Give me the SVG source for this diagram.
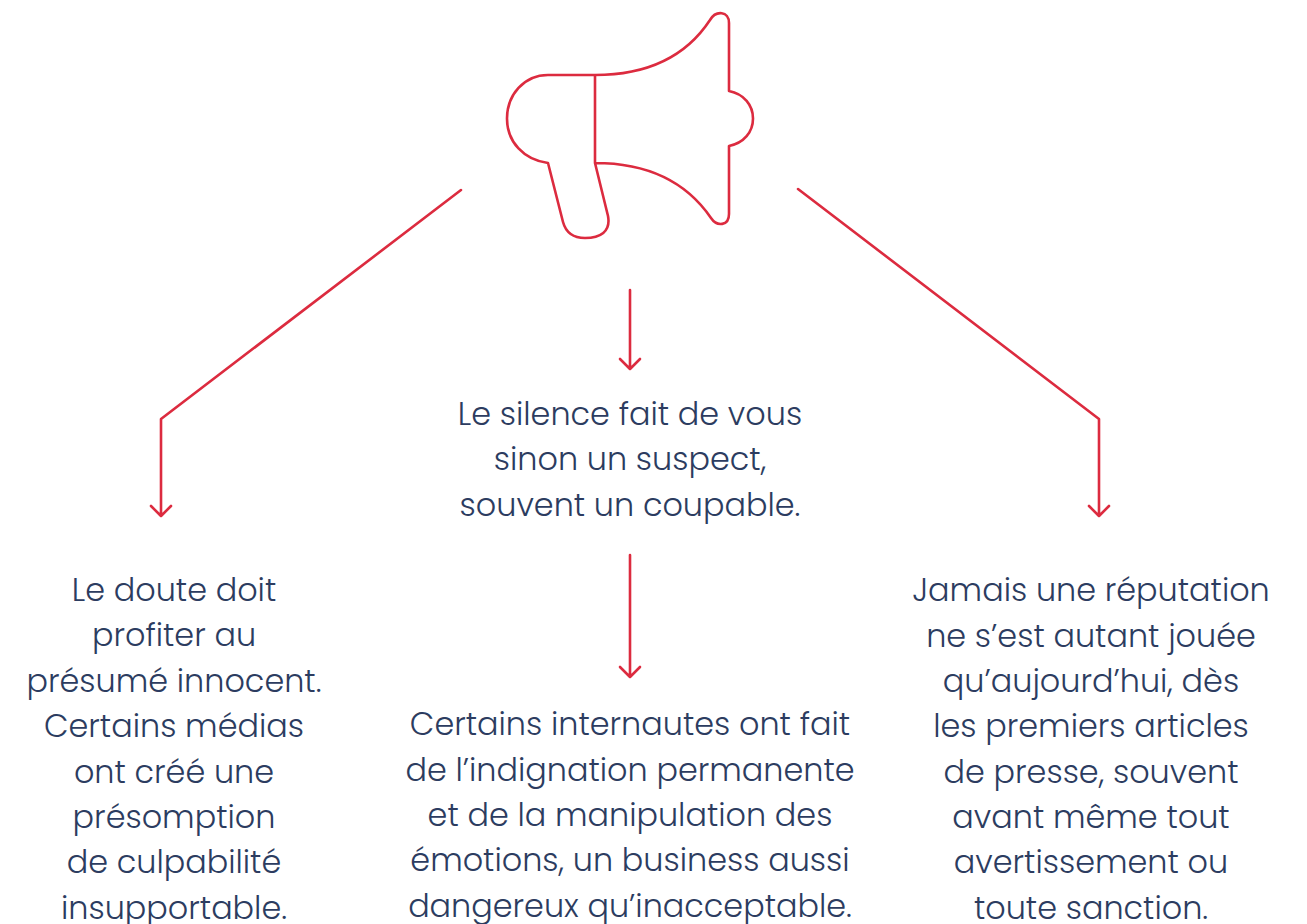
<svg xmlns="http://www.w3.org/2000/svg" width="1307" height="924" viewBox="0 0 1307 924">
<style>
.l{fill:none;stroke:#dc2b3f;stroke-width:2.6;stroke-linejoin:round;stroke-linecap:round}
text{font-family:"Poppins","Inter","Open Sans",sans-serif;font-size:31.85px;fill:#2c3c60;text-anchor:middle;font-weight:300}
</style>
<rect width="1307" height="924" fill="#fff"/>
<g id="megaphone"><path class="l" d="M595 75V163M595 75H548C524 75 507 95 507 118.500C507 142 524 160 548 163L563 222C566 233 573 238 585 238C600 238 611 232 608 216L595 163C645 163 685 180 711 218C717 227 729 226 729 214V146C744 143 753 132 753 118.500C753 105 744 94 729 91V23C729 11 716 10 710 20C685 58 645 75 595 75Z"/></g>
<g id="connectors">
<path class="l" d="M461 190L161 419V516M151 506L161 516L171 506"/>
<path class="l" d="M630 290V369M620 359L630 369L640 359"/>
<path class="l" d="M630 555V677M620 667L630 677L640 667"/>
<path class="l" d="M798 189L1099 419V516M1089 506L1099 516L1109 506"/>
</g>
<g id="t-center-top" transform="translate(0 0.7)"><text x="630" y="424">Le silence fait de vous</text><text x="630" y="469">sinon un suspect,</text><text x="630" y="515">souvent un coupable.</text></g>
<g id="t-left" transform="translate(0 0.7)"><text x="174" y="600">Le doute doit</text><text x="174" y="645">profiter au</text><text x="174" y="691">présumé innocent.</text><text x="174" y="736">Certains médias</text><text x="174" y="782">ont créé une</text><text x="174" y="827">présomption</text><text x="174" y="872">de culpabilité</text><text x="174" y="918">insupportable.</text></g>
<g id="t-center" transform="translate(0 0.7)"><text x="630" y="734">Certains internautes ont fait</text><text x="630" y="780">de l’indignation permanente</text><text x="630" y="825">et de la manipulation des</text><text x="630" y="870">émotions, un business aussi</text><text x="630" y="916">dangereux qu’inacceptable.</text></g>
<g id="t-right" transform="translate(0 0.7)"><text x="1091" y="600">Jamais une réputation</text><text x="1091" y="646">ne s’est autant jouée</text><text x="1091" y="691">qu’aujourd’hui, dès</text><text x="1091" y="736">les premiers articles</text><text x="1091" y="782">de presse, souvent</text><text x="1091" y="827">avant même tout</text><text x="1091" y="872">avertissement ou</text><text x="1091" y="918">toute sanction.</text></g>
</svg>
